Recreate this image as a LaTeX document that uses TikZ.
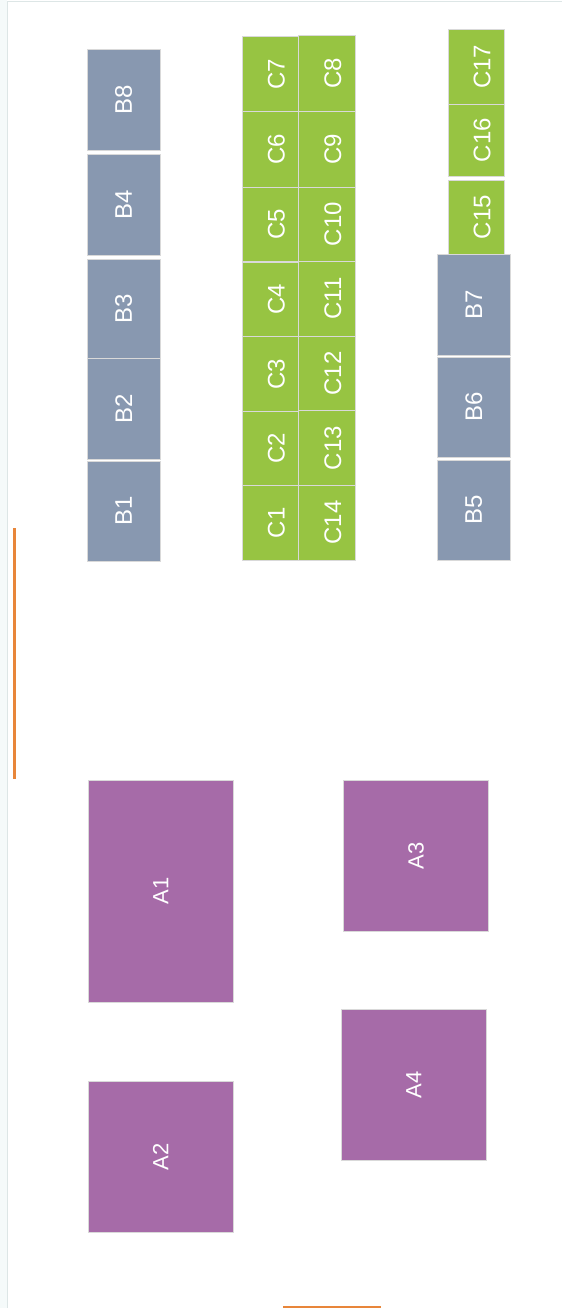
\documentclass[tikz,border=0pt]{standalone}
\usepackage{fontspec}
\setmainfont{Liberation Sans}
\definecolor{bgray}{HTML}{8898B0}
\definecolor{cgreen}{HTML}{97C442}
\definecolor{apurple}{HTML}{A66BA8}
\definecolor{edgegray}{HTML}{D9D9D9}
\definecolor{frameline}{HTML}{DDE6E6}
\definecolor{framefill}{HTML}{F5FAFA}
\definecolor{orangeline}{HTML}{E8863A}
\newcommand\rlab[1]{\hspace*{12pt}\rotatebox{90}{#1}}
\tikzset{
  cellbox/.style={draw=edgegray, line width=0.9pt, inner sep=0pt, text=white,
    font=\fontsize{24}{28}\selectfont},
  bcell/.style={cellbox, fill=bgray},
  ccell/.style={cellbox, fill=cgreen},
  acell/.style={cellbox, fill=apurple, font=\fontsize{22}{26}\selectfont},
  orangebar/.style={draw=orangeline, line width=2.4pt}
}
\begin{document}
\begin{tikzpicture}[x=1pt,y=-1pt]
\useasboundingbox (0,0) rectangle (562,1308);
% frame
\fill[framefill] (0,0) rectangle (7,1308);
\draw[frameline, line width=1pt] (7.5,1308) -- (7.5,2) -- (562,2);
% orange markers
\coordinate (o1) at (14.3,528);
\coordinate (o2) at (14.3,779);
\draw[orangebar] (o1) -- (o2);
\coordinate (o3) at (283,1306.5);
\coordinate (o4) at (381,1306.5);
\draw[orangebar, line width=2pt] (o3) -- (o4);
% B column left
\node[bcell, minimum width=72.7pt, minimum height=100.7pt] (B8) at (123.7,99.7) {\rotatebox{90}{B8}};
\node[bcell, minimum width=72.7pt, minimum height=100.6pt] (B4) at (123.7,205) {\rotatebox{90}{B4}};
\node[bcell, minimum width=72.7pt, minimum height=99pt] (B3) at (123.7,308.8) {\rotatebox{90}{B3}};
\node[bcell, minimum width=72.7pt, minimum height=100.7pt] (B2) at (123.7,408.7) {\rotatebox{90}{B2}};
\node[bcell, minimum width=72.7pt, minimum height=100.7pt] (B1) at (123.7,511.3) {\rotatebox{90}{B1}};
% C left column
\node[ccell, minimum width=56pt, minimum height=75.4pt] (C7) at (270.3,74) {\rlab{C7}};
\node[ccell, minimum width=56pt, minimum height=75.3pt] (C6) at (270.3,149.35) {\rlab{C6}};
\node[ccell, minimum width=56pt, minimum height=74.7pt] (C5) at (270.3,224.35) {\rlab{C5}};
\node[ccell, minimum width=56pt, minimum height=74.7pt] (C4) at (270.3,299.35) {\rlab{C4}};
\node[ccell, minimum width=56pt, minimum height=74.6pt] (C3) at (270.3,374) {\rlab{C3}};
\node[ccell, minimum width=56pt, minimum height=74.4pt] (C2) at (270.3,448.5) {\rlab{C2}};
\node[ccell, minimum width=56pt, minimum height=74.3pt] (C1) at (270.3,522.85) {\rlab{C1}};
% C right column
\node[ccell, minimum width=57pt, minimum height=75.6pt] (C8) at (326.8,73.5) {\rlab{C8}};
\node[ccell, minimum width=57pt, minimum height=75.7pt] (C9) at (326.8,149.15) {\rlab{C9}};
\node[ccell, minimum width=57pt, minimum height=74pt] (C10) at (326.8,224) {\rlab{C10}};
\node[ccell, minimum width=57pt, minimum height=75.3pt] (C11) at (326.8,298.65) {\rlab{C11}};
\node[ccell, minimum width=57pt, minimum height=74.4pt] (C12) at (326.8,373.5) {\rlab{C12}};
\node[ccell, minimum width=57pt, minimum height=74.6pt] (C13) at (326.8,448) {\rlab{C13}};
\node[ccell, minimum width=57pt, minimum height=74.7pt] (C14) at (326.8,522.65) {\rlab{C14}};
% right stack
\node[ccell, minimum width=56.3pt, minimum height=75.3pt] (C17) at (476.2,66.7) {\rlab{C17}};
\node[ccell, minimum width=56.3pt, minimum height=72pt] (C16) at (476.2,140.3) {\rlab{C16}};
\node[ccell, minimum width=56.3pt, minimum height=74pt] (C15) at (476.2,217.3) {\rlab{C15}};
\node[bcell, minimum width=73pt, minimum height=101pt] (B7) at (473.8,304.8) {\rotatebox{90}{B7}};
\node[bcell, minimum width=73pt, minimum height=100.7pt] (B6) at (473.8,407.3) {\rotatebox{90}{B6}};
\node[bcell, minimum width=73pt, minimum height=100.7pt] (B5) at (473.8,510.3) {\rotatebox{90}{B5}};
% A blocks
\node[acell, minimum width=145.7pt, minimum height=222.3pt] (A1) at (160.8,891.2) {\rotatebox{90}{A1}};
\node[acell, minimum width=145.7pt, minimum height=150.3pt] (A2) at (160.8,1156.8) {\rotatebox{90}{A2}};
\node[acell, minimum width=145.4pt, minimum height=151.3pt] (A3) at (416,855.7) {\rotatebox{90}{A3}};
\node[acell, minimum width=145.7pt, minimum height=150.7pt] (A4) at (413.8,1084.7) {\rotatebox{90}{A4}};
\end{tikzpicture}
\end{document}
